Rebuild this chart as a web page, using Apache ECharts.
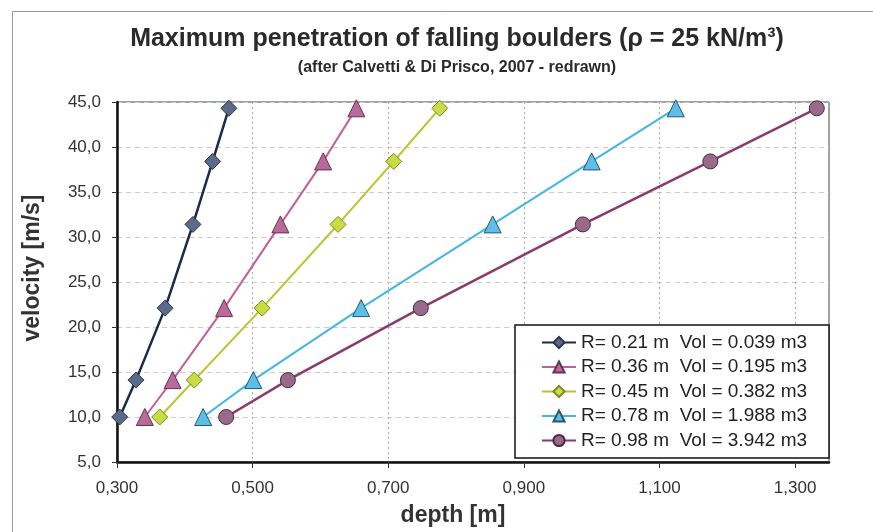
<!DOCTYPE html>
<html>
<head>
<meta charset="utf-8">
<script src="https://cdn.jsdelivr.net/npm/echarts@6/dist/echarts.min.js"></script>
<style>
  html, body { margin: 0; padding: 0; background: #fff; }
  #chart { width: 873px; height: 532px; }
</style>
</head>
<body>
<div id="chart"></div>
<script>
// velocities shared by all boulder sizes [m/s]
const velocity = [10, 14.1, 22.1, 31.4, 38.4, 44.3];

// penetration depth [m] per boulder
const depthR021 = [0.304, 0.328, 0.371, 0.412, 0.441, 0.465];
const depthR036 = [0.341, 0.382, 0.458, 0.541, 0.604, 0.653];
const depthR045 = [0.363, 0.414, 0.514, 0.626, 0.708, 0.776];
const depthR078 = [0.427, 0.501, 0.660, 0.854, 1.000, 1.124];
const depthR098 = [0.461, 0.552, 0.748, 0.987, 1.175, 1.332];

// labelled depth ticks
const depthTicks = [0.3, 0.5, 0.7, 0.9, 1.1, 1.3];

const seriesNames = [
  "R= 0.21 m  Vol = 0.039 m3",
  "R= 0.36 m  Vol = 0.195 m3",
  "R= 0.45 m  Vol = 0.382 m3",
  "R= 0.78 m  Vol = 1.988 m3",
  "R= 0.98 m  Vol = 3.942 m3",
];

function pairs(xs) {
  return xs.map((x, i) => [x, velocity[i]]);
}

const font = "Liberation Sans, Arial, sans-serif";

function makeSeries(name, data, symbol, size, lineColor, fill, border, width) {
  return {
    name: name,
    type: "line",
    data: pairs(data),
    symbol: symbol,
    symbolSize: size,
    lineStyle: { color: lineColor, width: width },
    itemStyle: { color: fill, borderColor: border, borderWidth: 1 },
    emphasis: { disabled: true },
    z: 3,
  };
}

const myChart = echarts.init(document.getElementById("chart"));

const option = {
  backgroundColor: "#fff",
  animation: false,
  graphic: [
    {
      type: "rect",
      left: 10,
      top: 9,
      shape: { width: 900, height: 560 },
      style: { fill: "none", stroke: "#999", lineWidth: 1 },
      silent: true,
      z: -1,
    },
  ],
  title: [
    {
      text: "Maximum penetration of falling boulders (\u03c1 = 25 kN/m\u00b3)",
      left: 452,
      top: 22,
      textAlign: "center",
      textStyle: { fontFamily: font, fontSize: 25, fontWeight: "bold", color: "#2a2a2a" },
    },
    {
      text: "(after Calvetti & Di Prisco, 2007 - redrawn)",
      left: 452,
      top: 55,
      textAlign: "center",
      textStyle: { fontFamily: font, fontSize: 16, fontWeight: "bold", color: "#2a2a2a" },
    },
  ],
  grid: {
    left: 117,
    right: 44,
    top: 102,
    bottom: 70,
    show: true,
    borderColor: "#444",
    borderWidth: 1,
  },
  legend: {
    orient: "vertical",
    left: 515,
    top: 325,
    padding: [8, 22, 8, 26],
    itemWidth: 34,
    itemHeight: 14,
    itemGap: 5.5,
    backgroundColor: "#fff",
    borderColor: "#111",
    borderWidth: 1.5,
    textStyle: { fontFamily: font, fontSize: 19, color: "#222" },
    data: seriesNames,
  },
  xAxis: {
    type: "value",
    min: 0.3,
    max: 1.35,
    interval: 0.1,
    name: "depth [m]",
    nameLocation: "middle",
    nameGap: 42,
    nameTextStyle: {
      fontFamily: font,
      fontSize: 23,
      fontWeight: "bold",
      color: "#333",
      padding: [0, 40, 0, 0],
    },
    axisLine: { show: true, lineStyle: { color: "#111", width: 2.5 } },
    axisTick: {
      show: true,
      customValues: depthTicks,
      length: 6,
      lineStyle: { color: "#333" },
    },
    axisLabel: {
      customValues: depthTicks,
      margin: 18,
      fontFamily: font,
      fontSize: 17,
      color: "#333",
      formatter: function (v) {
        return v.toFixed(3).replace(".", ",");
      },
    },
    splitLine: {
      show: true,
      lineStyle: { color: "#aaa", type: [2, 3], width: 1 },
    },
  },
  yAxis: {
    type: "value",
    min: 5,
    max: 45,
    interval: 5,
    name: "velocity [m/s]",
    nameLocation: "middle",
    nameGap: 73,
    nameRotate: 90,
    nameTextStyle: {
      fontFamily: font,
      fontSize: 23,
      fontWeight: "bold",
      color: "#333",
      padding: [0, 0, 0, 28],
    },
    axisLine: { show: true, lineStyle: { color: "#111", width: 2.5 } },
    axisTick: { show: true, length: 5, lineStyle: { color: "#333" } },
    axisLabel: {
      margin: 16,
      fontFamily: font,
      fontSize: 17,
      color: "#333",
      formatter: function (v) {
        return v.toFixed(1).replace(".", ",");
      },
    },
    splitLine: {
      show: true,
      lineStyle: { color: "#ccc", type: [5, 4], width: 1 },
    },
  },
  series: [
    makeSeries(seriesNames[0], depthR021, "diamond", 16, "#1c2a50", "#5a6a88", "#2a3550", 2.5),
    makeSeries(seriesNames[1], depthR036, "triangle", 17, "#c0609a", "#b86a9a", "#6a3050", 2),
    makeSeries(seriesNames[2], depthR045, "diamond", 16, "#b0c828", "#cadc44", "#7a8a20", 2),
    makeSeries(seriesNames[3], depthR078, "triangle", 17, "#45b5e5", "#5cbfe9", "#2a5570", 2),
    makeSeries(seriesNames[4], depthR098, "circle", 15, "#8a3a70", "#9a6a8a", "#4a2a40", 2.5),
  ],
};

myChart.setOption(option);
</script>
</body>
</html>
